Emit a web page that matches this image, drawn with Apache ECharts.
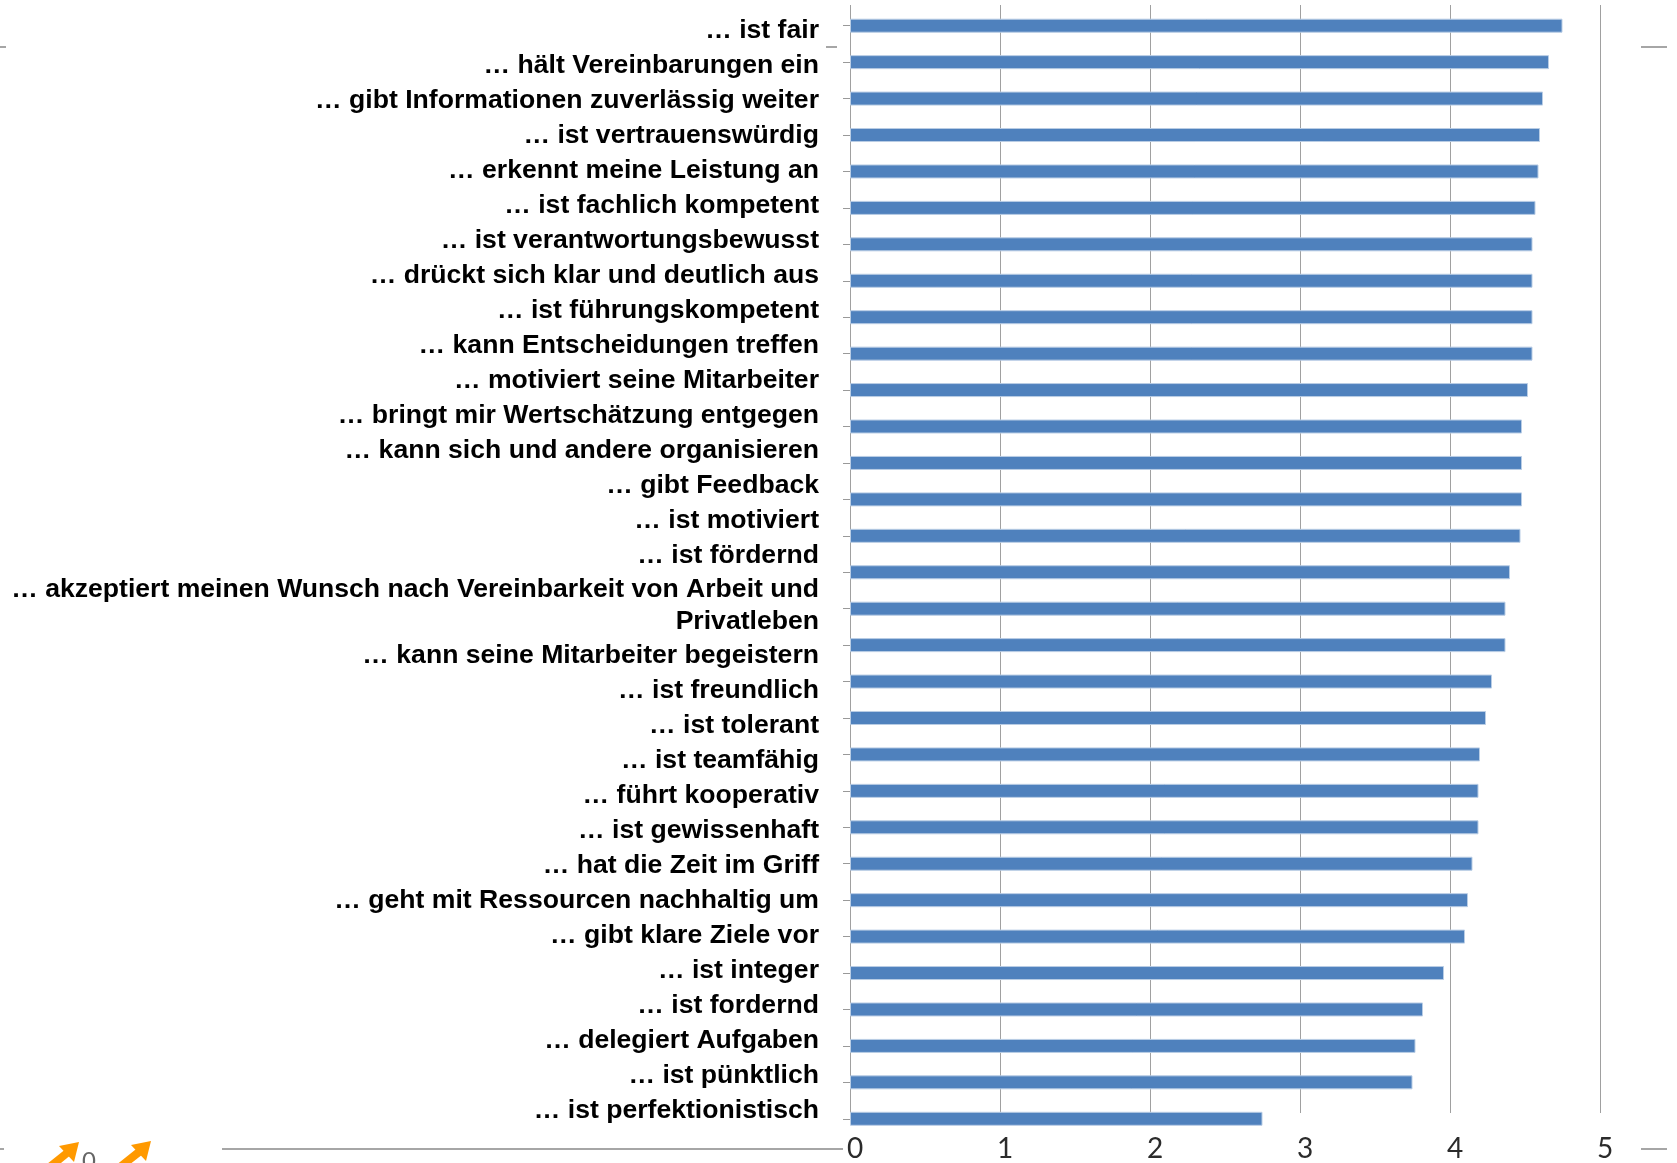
<!DOCTYPE html>
<html>
<head>
<meta charset="utf-8">
<title>Führungskraft – Bewertung</title>
<script src="https://cdn.jsdelivr.net/npm/echarts@6/dist/echarts.min.js"></script>
<style>
  html, body { margin: 0; padding: 0; background: #fff; }
  #chart { width: 1677px; height: 1163px; }
</style>
</head>
<body>
<div id="chart"></div>
<script>
// categories, top to bottom
var categories = [
  '… ist fair',
  '… hält Vereinbarungen ein',
  '… gibt Informationen zuverlässig weiter',
  '… ist vertrauenswürdig',
  '… erkennt meine Leistung an',
  '… ist fachlich kompetent',
  '… ist verantwortungsbewusst',
  '… drückt sich klar und deutlich aus',
  '… ist führungskompetent',
  '… kann Entscheidungen treffen',
  '… motiviert seine Mitarbeiter',
  '… bringt mir Wertschätzung entgegen',
  '… kann sich und andere organisieren',
  '… gibt Feedback',
  '… ist motiviert',
  '… ist fördernd',
  '… akzeptiert meinen Wunsch nach Vereinbarkeit von Arbeit und\nPrivatleben',
  '… kann seine Mitarbeiter begeistern',
  '… ist freundlich',
  '… ist tolerant',
  '… ist teamfähig',
  '… führt kooperativ',
  '… ist gewissenhaft',
  '… hat die Zeit im Griff',
  '… geht mit Ressourcen nachhaltig um',
  '… gibt klare Ziele vor',
  '… ist integer',
  '… ist fordernd',
  '… delegiert Aufgaben',
  '… ist pünktlich',
  '… ist perfektionistisch'
];

var values = [
  4.75, 4.66, 4.62, 4.60, 4.59, 4.57, 4.55, 4.55, 4.55, 4.55,
  4.52, 4.48, 4.48, 4.48, 4.47, 4.40, 4.37, 4.37, 4.28, 4.24,
  4.20, 4.19, 4.19, 4.15, 4.12, 4.10, 3.96, 3.82, 3.77, 3.75,
  2.75
];

var axisMin = 0;
var axisMax = 5;
var axisStep = 1;

// the label column is stacked like in the original office chart:
// a wrapped label pushes everything below it down by one extra line
var labelTop = 31;
var labelStep = 35.01;
var wrapExtra = 29.3;

function countWraps(s) {
  return s.split('\n').length - 1;
}

function labelFormatter(value, idx) {
  var above = 0;
  for (var i = 0; i < idx; i++) {
    above += countWraps(categories[i]);
  }
  var spacers = 2 * above + countWraps(value);
  var out = [];
  for (var k = 0; k < spacers; k++) out.push('{sp| }');
  value.split('\n').forEach(function (line) {
    out.push('{a|' + line + '}');
  });
  return out.join('\n');
}

var chartDom = document.getElementById('chart');
var myChart = echarts.init(chartDom, null, { renderer: 'canvas' });
var option;

var deco = '#a6a6a6';

option = {
  backgroundColor: '#fff',
  animation: false,
  grid: [
    // value axis + gridlines
    { left: 850, right: 77, top: 5, bottom: 46 },
    // bars + category ticks
    { left: 850, right: 77, top: 7.5, bottom: 26 },
    // category labels
    {
      left: 850,
      right: 77,
      top: labelTop - labelStep / 2,
      bottom: 1163 - (labelTop - labelStep / 2) - 31 * labelStep
    }
  ],
  xAxis: [
    {
      gridIndex: 0,
      type: 'value',
      min: axisMin,
      max: axisMax,
      interval: axisStep,
      axisLine: { show: false },
      axisTick: { show: false },
      splitLine: { show: true, lineStyle: { color: '#a0a0a0', width: 1 } },
      axisLabel: {
        margin: 22,
        padding: [0, 0, 0, 10],
        fontFamily: 'Lato',
        fontSize: 28,
        color: '#2b2b2b'
      }
    },
    { gridIndex: 1, type: 'value', min: axisMin, max: axisMax, show: false },
    { gridIndex: 2, type: 'value', min: axisMin, max: axisMax, show: false }
  ],
  yAxis: [
    { gridIndex: 0, type: 'value', show: false },
    {
      gridIndex: 1,
      type: 'category',
      data: categories,
      inverse: true,
      axisLine: { show: false },
      axisTick: {
        show: true,
        alignWithLabel: true,
        length: 7,
        lineStyle: { color: '#999' }
      },
      axisLabel: { show: false }
    },
    {
      gridIndex: 2,
      type: 'category',
      data: categories,
      inverse: true,
      axisLine: { show: false },
      axisTick: { show: false },
      axisLabel: {
        interval: 0,
        margin: 31,
        formatter: labelFormatter,
        rich: {
          a: {
            fontFamily: 'Liberation Sans',
            fontWeight: 'bold',
            fontSize: 26.6,
            lineHeight: 32,
            color: '#000',
            align: 'right'
          },
          sp: { fontSize: 1, lineHeight: wrapExtra }
        }
      }
    }
  ],
  series: [
    {
      type: 'bar',
      xAxisIndex: 1,
      yAxisIndex: 1,
      data: values,
      barWidth: 14,
      itemStyle: {
        color: '#4f81bd',
        borderColor: '#b9cde5',
        borderWidth: 1
      }
    }
  ],
  graphic: {
    elements: [
      // stray slide lines
      { type: 'line', shape: { x1: 0, y1: 47, x2: 6, y2: 47 }, style: { stroke: deco, lineWidth: 2 } },
      { type: 'line', shape: { x1: 826, y1: 47, x2: 837, y2: 47 }, style: { stroke: deco, lineWidth: 2 } },
      { type: 'line', shape: { x1: 1641, y1: 47, x2: 1667, y2: 47 }, style: { stroke: deco, lineWidth: 2 } },
      { type: 'line', shape: { x1: 0, y1: 1149, x2: 4, y2: 1149 }, style: { stroke: deco, lineWidth: 2 } },
      { type: 'line', shape: { x1: 222, y1: 1149, x2: 843, y2: 1149 }, style: { stroke: deco, lineWidth: 2 } },
      { type: 'line', shape: { x1: 1641, y1: 1149, x2: 1667, y2: 1149 }, style: { stroke: deco, lineWidth: 2 } },
      // orange arrows bottom left
      { type: 'line', shape: { x1: 67, y1: 1153, x2: 41, y2: 1174 }, style: { stroke: '#ff9900', lineWidth: 8 } },
      { type: 'polygon', shape: { points: [[79, 1142], [74, 1162], [59, 1146]] }, style: { fill: '#ff9900' } },
      { type: 'line', shape: { x1: 139, y1: 1152, x2: 110, y2: 1175 }, style: { stroke: '#ff9900', lineWidth: 8 } },
      { type: 'polygon', shape: { points: [[151, 1141], [146, 1161], [131, 1145]] }, style: { fill: '#ff9900' } },
      { type: 'text', x: 82, y: 1149, style: { text: '0', fontFamily: 'Lato', fontSize: 24, fill: '#666' } }
    ]
  }
};

option && myChart.setOption(option);
</script>
</body>
</html>
